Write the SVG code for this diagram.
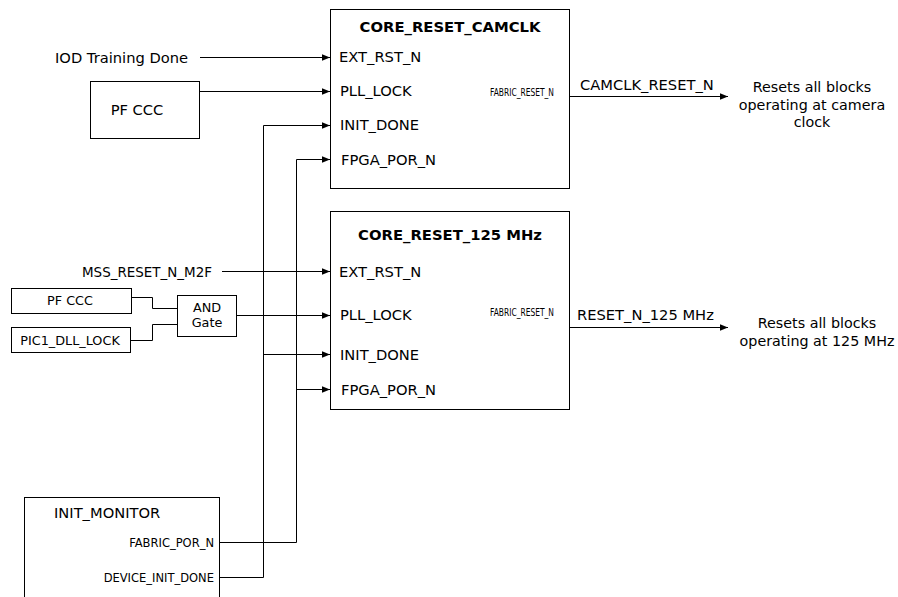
<svg xmlns="http://www.w3.org/2000/svg" width="898" height="597" viewBox="0 0 898 597">
<style>
text{font-family:"DejaVu Sans",Verdana,sans-serif;font-size:14.7px;fill:#000}
.t{font-weight:bold;text-anchor:middle;font-size:14.8px}
.s{font-size:10.5px}
.m{font-size:11.5px}
.g{font-size:12.8px}
.x{font-size:14.3px}
.c{text-anchor:middle}
.r{text-anchor:end}
.box{fill:#fff;stroke:#000;stroke-width:1}
.w{fill:none;stroke:#000;stroke-width:1}
</style>
<defs>
<marker id="a" viewBox="0 0 10 10" refX="10" refY="5" markerWidth="8" markerHeight="8" markerUnits="userSpaceOnUse" orient="auto">
<path d="M0,1 L10,5 L0,9 z" fill="#000"/>
</marker>
</defs>
<rect width="898" height="597" fill="#fff"/>
<g id="connectors">
<path class="w" d="M200,57.5 H330" marker-end="url(#a)"/>
<path class="w" d="M199,91.5 H330" marker-end="url(#a)"/>
<path class="w" d="M219,577.5 H263.5 V125.5 H330" marker-end="url(#a)"/>
<path class="w" d="M219,542.5 H296.5 V159.5 H330" marker-end="url(#a)"/>
<path class="w" d="M569,96.5 H728" marker-end="url(#a)"/>
<path class="w" d="M222,271.5 H330" marker-end="url(#a)"/>
<path class="w" d="M237,315.5 H330" marker-end="url(#a)"/>
<path class="w" d="M263.5,354.5 H330" marker-end="url(#a)"/>
<path class="w" d="M296.5,389.5 H330" marker-end="url(#a)"/>
<path class="w" d="M569,327.5 H728" marker-end="url(#a)"/>
<path class="w" d="M132,297.5 H152.5 V308.5 H177"/>
<path class="w" d="M131,340.5 H152.5 V324.5 H177"/>
</g>
<g id="core_reset_camclk">
<rect class="box" x="330.5" y="9.5" width="239" height="179"/>
<text class="t" x="450" y="32">CORE_RESET_CAMCLK</text>
<text x="339" y="62">EXT_RST_N</text>
<text x="340" y="96">PLL_LOCK</text>
<text x="340" y="130">INIT_DONE</text>
<text x="341" y="165">FPGA_POR_N</text>
<text class="s" x="490" y="96" textLength="64" lengthAdjust="spacingAndGlyphs">FABRIC_RESET_N</text>
</g>
<g id="iod_label"><text x="55" y="63">IOD Training Done</text></g>
<g id="pf_ccc_1">
<rect class="box" x="90.5" y="81.5" width="109" height="57"/>
<text class="c" x="137" y="115">PF CCC</text>
</g>
<g id="camclk_out">
<text x="580" y="90">CAMCLK_RESET_N</text>
<text class="c x" x="812" y="92">Resets all blocks</text>
<text class="c x" x="812" y="110">operating at camera</text>
<text class="c x" x="812" y="127">clock</text>
</g>
<g id="core_reset_125">
<rect class="box" x="330.5" y="211.5" width="239" height="198"/>
<text class="t" x="450" y="240">CORE_RESET_125 MHz</text>
<text x="339" y="277">EXT_RST_N</text>
<text x="340" y="320">PLL_LOCK</text>
<text x="340" y="360">INIT_DONE</text>
<text x="341" y="395">FPGA_POR_N</text>
<text class="s" x="490" y="316" textLength="64" lengthAdjust="spacingAndGlyphs">FABRIC_RESET_N</text>
</g>
<g id="mss_label"><text x="82" y="277" textLength="130" lengthAdjust="spacingAndGlyphs">MSS_RESET_N_M2F</text></g>
<g id="pf_ccc_2">
<rect class="box" x="11.5" y="288.5" width="120" height="25"/>
<text class="g c" x="70" y="305">PF CCC</text>
</g>
<g id="pic1_dll_lock">
<rect class="box" x="11.5" y="327.5" width="119" height="25"/>
<text class="g c" x="70" y="345">PIC1_DLL_LOCK</text>
</g>
<g id="and_gate">
<rect class="box" x="177.5" y="295.5" width="59" height="41"/>
<text class="g c" x="207" y="312">AND</text>
<text class="g c" x="207" y="327">Gate</text>
</g>
<g id="out_125">
<text x="577" y="320">RESET_N_125 MHz</text>
<text class="c x" x="817" y="328">Resets all blocks</text>
<text class="c x" x="817" y="346">operating at 125 MHz</text>
</g>
<g id="init_monitor">
<rect class="box" x="24.5" y="497.5" width="195" height="110"/>
<text x="54" y="518">INIT_MONITOR</text>
<text class="m r" x="214" y="547">FABRIC_POR_N</text>
<text class="m r" x="214" y="582">DEVICE_INIT_DONE</text>
</g>
</svg>
